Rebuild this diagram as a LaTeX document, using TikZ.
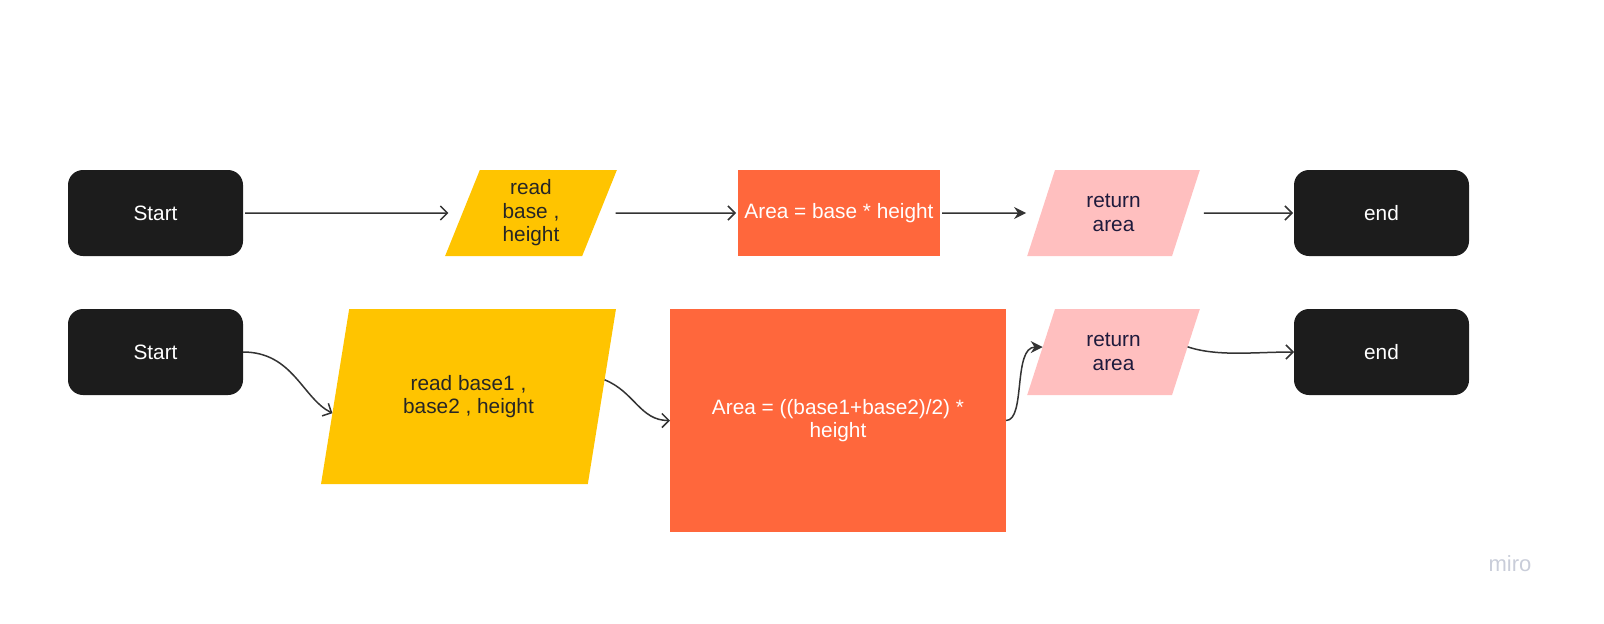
\documentclass[tikz,border=0pt]{standalone}
\usepackage{fontspec}
\setmainfont{Liberation Sans}
\usetikzlibrary{shapes.geometric}
\usetikzlibrary{arrows.meta}

\definecolor{boxblack}{HTML}{1C1C1C}
\definecolor{readyellow}{HTML}{FFC400}
\definecolor{calcorange}{HTML}{FF673C}
\definecolor{retpink}{HTML}{FFBFBF}
\definecolor{retink}{HTML}{1E1A3C}
\definecolor{lineink}{HTML}{333333}
\definecolor{miroink}{HTML}{C9CDD9}

\tikzset{
  terminal/.style={fill=boxblack,text=white,rounded corners=7.5pt,
    minimum width=87.5pt,minimum height=43pt,outer sep=0pt},
  readbox/.style={trapezium,trapezium stretches=true,fill=readyellow,
    text=black!85,align=center,outer sep=0pt,inner sep=0pt},
  calcbox/.style={fill=calcorange,text=white,align=center,outer sep=0pt,inner sep=1pt},
  retbox/.style={trapezium,trapezium stretches=true,fill=retpink,
    text=retink,align=center,outer sep=0pt,inner sep=0pt,
    trapezium left angle=70.8,trapezium right angle=109.2,
    minimum width=86.5pt,minimum height=43pt},
  flow/.style={draw=lineink,line width=0.75pt,-{Straight Barb[length=3.5pt,width=7pt]}},
  flowfill/.style={draw=lineink,line width=0.75pt,-{Stealth[length=6pt,width=6pt]}}
}

\begin{document}
\begin{tikzpicture}[x=0.5pt,y=-0.5pt,font=\fontsize{10.4}{11.7}\selectfont]
\path[use as bounding box] (0,0) rectangle (1604,623);

% first row
\node[terminal] at (155.5,213) (start1) {Start};
\node[readbox,trapezium left angle=73.8,trapezium right angle=106.2,
  minimum width=86pt,minimum height=43pt] at (531,213) (read1) {read\\base ,\\height};
\node[calcbox,minimum width=101pt,minimum height=43pt] at (839,213) (area1) {Area = base * height};
\node[retbox] at (1113.5,213) (ret1) {return\\area};
\node[terminal] at (1381.5,213) (end1) {end};

\draw[flow,shorten <=1pt,shorten >=7pt] (start1.east) -- (read1.west);
\draw[flow,shorten <=8pt,shorten >=1pt] (read1.east) -- (area1.west);
\draw[flowfill,shorten <=1pt,shorten >=7.5pt] (area1.east) -- (ret1.west);
\draw[flow,shorten <=9pt,shorten >=0.5pt] (ret1.east) -- (end1.west);

% second row
\node[terminal] at (155.5,352) (start2) {Start};
\node[readbox,trapezium left angle=70.2,trapezium right angle=109.8,
  minimum width=148.5pt,minimum height=87.5pt] at (468.5,396.5) (read2) {read base1 ,\\base2 , height};
\node[calcbox,minimum width=168pt,minimum height=111.5pt] at (838,420.5) (area2) {Area = ((base1+base2)/2) *\\height};
\node[retbox] at (1113.5,352) (ret2) {return\\area};
\node[terminal] at (1381.5,352) (end2) {end};

\draw[flow] (start2.east) .. controls +(50,0) and +(-30,-15) .. (read2.187);
\draw[flow] (read2.7) .. controls +(30,12) and +(-30,0) .. (area2.west);
\draw[flowfill] (area2.east) .. controls +(20,0) and +(-30,0) .. (ret2.176);
\draw[flow] (ret2.4) .. controls +(30,10) and +(-40,0) .. (end2.west);

\node[text=miroink,font=\fontsize{11}{13}\selectfont] at (1510,564) (miro) {miro};
\end{tikzpicture}
\end{document}
